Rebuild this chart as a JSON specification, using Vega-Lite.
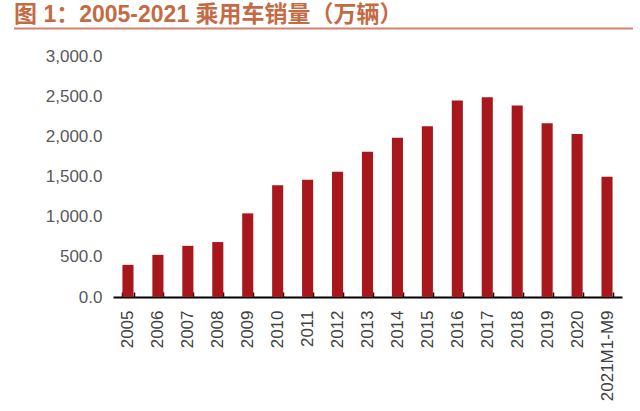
{
  "$schema": "https://vega.github.io/schema/vega-lite/v6.json",
  "autosize": "none",
  "width": 619,
  "height": 241,
  "padding": {"left": 14, "top": 56, "right": 7, "bottom": 114},
  "background": "white",
  "title": {
    "text": "图 1：2005-2021 乘用车销量（万辆）",
    "anchor": "start",
    "frame": "group",
    "font": "Liberation Sans, Noto Sans CJK SC",
    "fontSize": 23,
    "fontWeight": "bold",
    "color": "#c46a44",
    "offset": 0
  },
  "config": {"view": {"stroke": null}},
  "layer": [
    {
      "data": {
        "values": [
          {"year": "2005", "sales": 400},
          {"year": "2006", "sales": 525},
          {"year": "2007", "sales": 637},
          {"year": "2008", "sales": 684},
          {"year": "2009", "sales": 1041},
          {"year": "2010", "sales": 1391},
          {"year": "2011", "sales": 1458},
          {"year": "2012", "sales": 1558},
          {"year": "2013", "sales": 1808},
          {"year": "2014", "sales": 1983},
          {"year": "2015", "sales": 2125},
          {"year": "2016", "sales": 2446},
          {"year": "2017", "sales": 2487},
          {"year": "2018", "sales": 2383},
          {"year": "2019", "sales": 2162},
          {"year": "2020", "sales": 2029},
          {"year": "2021M1-M9", "sales": 1496}
        ]
      },
      "mark": {"type": "bar", "color": "#a8171b"},
      "encoding": {
        "x": {
          "field": "year",
          "type": "ordinal",
          "sort": null,
          "scale": {"range": [99, 608], "paddingInner": 0.63, "paddingOuter": 0.315},
          "axis": {
            "title": null,
            "domain": true,
            "domainColor": "#000000",
            "domainWidth": 2,
            "ticks": true,
            "tickColor": "#000000",
            "tickWidth": 1.5,
            "tickSize": -5,
            "tickBand": "extent",
            "labelAngle": -90,
            "labelFont": "Liberation Sans",
            "labelFontSize": 17,
            "labelColor": "#404040",
            "labelPadding": 18
          }
        },
        "y": {
          "field": "sales",
          "type": "quantitative",
          "scale": {"domain": [0, 3000], "nice": false},
          "axis": {
            "title": null,
            "values": [0, 500, 1000, 1500, 2000, 2500, 3000],
            "format": ",.1f",
            "domain": false,
            "ticks": false,
            "grid": false,
            "labelFont": "Liberation Sans",
            "labelFontSize": 17,
            "labelColor": "#595959",
            "labelPadding": 11,
            "offset": -99
          }
        }
      }
    },
    {
      "data": {"values": [{"line": "header"}]},
      "mark": {"type": "rule", "color": "#d4826e", "strokeWidth": 2},
      "encoding": {
        "y": {"datum": 3343, "type": "quantitative", "title": null, "scale": {"domain": [0, 3000], "nice": false}}
      }
    }
  ]
}
